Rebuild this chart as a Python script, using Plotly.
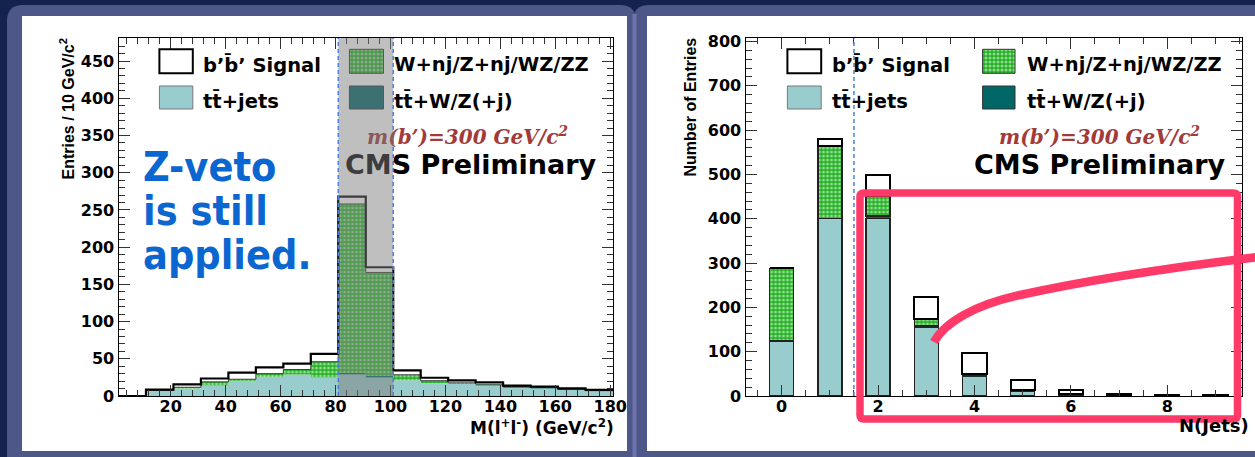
import plotly.graph_objects as go
import numpy as np

W, H = 1255, 457

# ---------------- data: left panel, M(l+l-) ----------------
mll_edges = list(range(1, 182, 10))            # 18 bins of 10 GeV
mll_ttjets = [0, 7, 10, 14, 20, 26, 29, 25, 29, 25, 21, 17, 16, 14, 11, 10, 8, 6.5]
mll_ttV    = [0, 0, 0, 0, 0, 0, 0, 0, 2, 2, 0, 0, 0.5, 1.5, 1.5, 1.5, 1.5, 1]
mll_wz     = [0, 0.5, 1.7, 5, 2.5, 4, 6.5, 21, 227, 139, 7.5, 3.5, 1.2, 0.5, 0.3, 0.3, 0.2, 0.2]
mll_signal = [0, 1, 4, 4.5, 9, 8.5, 8, 10.5, 10, 7, 6, 4, 3.3, 2.5, 1.2, 0.7, 0.5, 0.4]
zveto_window = [81, 101]

# ---------------- data: right panel, N(jets) ----------------
njets     = [0, 1, 2, 3, 4, 5, 6, 7, 8, 9]
nj_ttjets = [124, 401, 401, 154, 44, 11, 4.5, 1, 0.5, 0.3]
nj_ttV    = [0, 0, 5, 4, 2, 1, 0.5, 0.2, 0.1, 0.1]
nj_wz     = [164, 163, 46, 15, 3, 0.5, 0, 0, 0, 0]
nj_signal = [0, 15, 47, 50, 47, 24.5, 8, 3.3, 1.4, 1.1]
njet_cut = 1.5

# ---------------- styles ----------------
C_TT = '#99cccc'
C_TTV = '#006666'
C_WZ = '#22b022'
C_BG = '#14224e'
C_FRAME = '#4d5888'
WZ_PAT = dict(shape='.', fgcolor='white', bgcolor=C_WZ, size=4, solidity=0.45)
TICK = dict(family='DejaVu Sans', size=16, color='black', weight='bold')


def px(x):
    return x / W


def py(y):
    return 1 - y / H


fig = go.Figure()

# ----- left: stacked step histogram -----
stack = np.zeros(len(mll_ttjets))
layers = [
    (mll_ttjets, dict(fill='tozeroy', fillcolor=C_TT, line=dict(width=0, color=C_TT))),
    (mll_ttV, dict(fill='tonexty', fillcolor=C_TTV, line=dict(width=0, color=C_TTV))),
    (mll_wz, dict(fill='tonexty', fillcolor=C_WZ, fillpattern=WZ_PAT,
                  line=dict(width=1, color='#333333'))),
    (mll_signal, dict(fill='tonexty', fillcolor='white', line=dict(width=2.2, color='black'))),
]
for vals, style in layers:
    stack = stack + np.array(vals, dtype=float)
    yv = list(stack) + [stack[-1]]
    fig.add_trace(go.Scatter(x=mll_edges, y=yv, mode='lines', line_shape='hv',
                             xaxis='x', yaxis='y', hoverinfo='skip', **style))

# ----- right: stacked bars -----
fig.add_trace(go.Bar(x=njets, y=nj_ttjets, width=0.5, xaxis='x2', yaxis='y2',
                     marker=dict(color=C_TT, line=dict(color='#222', width=1.4))))
fig.add_trace(go.Bar(x=njets, y=nj_ttV, width=0.5, xaxis='x2', yaxis='y2',
                     marker=dict(color=C_TTV, line=dict(color='#222', width=0.8))))
fig.add_trace(go.Bar(x=njets, y=nj_wz, width=0.5, xaxis='x2', yaxis='y2',
                     marker=dict(color=C_WZ, pattern=WZ_PAT, line=dict(color='#222', width=1.4))))
fig.add_trace(go.Bar(x=njets, y=nj_signal, width=0.5, xaxis='x2', yaxis='y2',
                     marker=dict(color='white', line=dict(color='black', width=2))))

# ----- patterned legend swatches (pixel overlay axes) -----
for (x0, x1) in [(349.4, 383.5), (982.6, 1015.0)]:
    y0, y1 = 49.3, 73.3
    fig.add_trace(go.Scatter(x=[x0, x1, x1, x0, x0], y=[y0, y0, y1, y1, y0], mode='lines',
                             fill='toself', fillcolor=C_WZ, fillpattern=WZ_PAT,
                             line=dict(color='#333', width=1), xaxis='x3', yaxis='y3',
                             hoverinfo='skip'))


def axis(domain, rng, dtick, mdtick, anchor, standoff=0):
    return dict(domain=domain, range=rng, dtick=dtick, tick0=0, ticks='inside', ticklen=11,
                tickwidth=1, tickcolor='#333',
                minor=dict(ticks='inside', ticklen=6, dtick=mdtick, tick0=0,
                           tickcolor='#333', tickwidth=1),
                showline=True, linecolor='black', linewidth=1.2, mirror='ticks',
                showgrid=False, zeroline=False, tickfont=TICK, anchor=anchor, fixedrange=True,
                automargin=False, ticklabelstandoff=standoff)


ydom = [py(396), py(38)]
fig.update_layout(
    width=W, height=H, margin=dict(l=0, r=0, t=0, b=0, pad=0, autoexpand=False),
    paper_bgcolor=C_BG, plot_bgcolor='rgba(0,0,0,0)', showlegend=False,
    barmode='stack',
    xaxis=axis([px(118.5), px(613)], [1, 181], 20, 4, 'y', -4),
    yaxis=axis(ydom, [0, 481], 50, 10, 'x'),
    xaxis2=axis([px(745.5), px(1242)], [-0.75, 9.55], 2, 0.5, 'y2', -4),
    yaxis2=axis(ydom, [0, 808], 100, 20, 'x2'),
    xaxis3=dict(domain=[0, 1], range=[0, W], visible=False, anchor='y3', fixedrange=True,
                automargin=False),
    yaxis3=dict(domain=[0, 1], range=[H, 0], visible=False, anchor='x3', fixedrange=True,
                automargin=False),
)


def rrect(x0, y0, x1, y1, r):
    # rounded rectangle path in paper coords from pixel coords
    pts = [
        f"M{px(x0 + r)},{py(y0)}", f"L{px(x1 - r)},{py(y0)}",
        f"Q{px(x1)},{py(y0)} {px(x1)},{py(y0 + r)}", f"L{px(x1)},{py(y1 - r)}",
        f"Q{px(x1)},{py(y1)} {px(x1 - r)},{py(y1)}", f"L{px(x0 + r)},{py(y1)}",
        f"Q{px(x0)},{py(y1)} {px(x0)},{py(y1 - r)}", f"L{px(x0)},{py(y0 + r)}",
        f"Q{px(x0)},{py(y0)} {px(x0 + r)},{py(y0)}", "Z"]
    return " ".join(pts)


shapes = []
# slide panels
shapes.append(dict(type='path', path=rrect(7, 5, 636, 480, 16), xref='paper', yref='paper',
                   fillcolor=C_FRAME, line=dict(width=0), layer='below'))
shapes.append(dict(type='path', path=rrect(633, 5, 1275, 480, 16), xref='paper', yref='paper',
                   fillcolor=C_FRAME, line=dict(width=0), layer='below'))
shapes.append(dict(type='line', x0=px(634.5), x1=px(634.5), y0=py(14), y1=py(460), xref='paper',
                   yref='paper', line=dict(color='#6e74ab', width=4), layer='below'))
shapes.append(dict(type='rect', x0=px(22), x1=px(627), y0=py(16), y1=py(451), xref='paper',
                   yref='paper', fillcolor='white', line=dict(width=0), layer='below'))
shapes.append(dict(type='rect', x0=px(647), x1=px(1262), y0=py(16), y1=py(451), xref='paper',
                   yref='paper', fillcolor='white', line=dict(width=0), layer='below'))

# legend swatches (solid)
for xs in [(159.4, 192.8), (787.4, 821.2)]:
    shapes.append(dict(type='rect', xref='x3', yref='y3', x0=xs[0], x1=xs[1], y0=49.3, y1=73.3,
                       fillcolor='white', line=dict(color='black', width=2), layer='above'))
    shapes.append(dict(type='rect', xref='x3', yref='y3', x0=xs[0], x1=xs[1], y0=86, y1=109,
                       fillcolor=C_TT, line=dict(color='#777', width=1), layer='above'))
for xs in [(349.4, 383.5), (982.6, 1015.0)]:
    shapes.append(dict(type='rect', xref='x3', yref='y3', x0=xs[0], x1=xs[1], y0=86, y1=109,
                       fillcolor=C_TTV, line=dict(color='#333', width=1), layer='above'))

# Z-veto band (grey overlay) and dashed lines
shapes.append(dict(type='rect', xref='x', yref='y domain', x0=zveto_window[0], x1=zveto_window[1],
                   y0=0, y1=1, fillcolor='rgba(125,125,125,0.49)', line=dict(width=0),
                   layer='above'))
for xv in zveto_window:
    shapes.append(dict(type='line', xref='x', yref='y domain', x0=xv, x1=xv, y0=0, y1=1,
                       line=dict(color='#4a7fe0', width=1.5, dash='4px,3px'), layer='above'))
shapes.append(dict(type='line', xref='x2', yref='y2 domain', x0=njet_cut, x1=njet_cut, y0=0, y1=1,
                   line=dict(color='#4a7fe0', width=1.5, dash='4px,3px'), layer='above'))

# red highlight box and stroke
RED = '#ff3a68'
x0, y0, x1, y1, r = 860, 193, 1237.5, 419, 4
box = (f"M{x0 + r},{y0} L{x1 - r},{y0} Q{x1},{y0} {x1},{y0 + r} L{x1},{y1 - r} "
       f"Q{x1},{y1} {x1 - r},{y1} L{x0 + r},{y1} Q{x0},{y1} {x0},{y1 - r} "
       f"L{x0},{y0 + r} Q{x0},{y0} {x0 + r},{y0} Z")
shapes.append(dict(type='path', path=box, xref='x3', yref='y3', line=dict(color=RED, width=7.5),
                   layer='above'))
shapes.append(dict(type='path', xref='x3', yref='y3',
                   path="M934,342 C945,322 975,305 1020,295 S1150,270 1258,257",
                   line=dict(color=RED, width=8.5), layer='above'))

fig.update_layout(shapes=shapes)


def ann(x, y, text, font, xanchor='left', yanchor='middle', angle=0):
    fig.add_annotation(x=px(x), y=py(y), xref='paper', yref='paper', text=text, showarrow=False,
                       xanchor=xanchor, yanchor=yanchor, textangle=angle, font=font,
                       borderpad=0)


LEG = dict(family='DejaVu Sans', size=19.5, color='black', weight='bold')
sig_txt = "b\u2019b\u0304\u2019 Signal"
tt_txt = "tt\u0304+jets"
wz_txt = "W+nj/Z+nj/WZ/ZZ"
ttv_txt = "tt\u0304+W/Z(+j)"
for xa, xb in [(202, 393), (831, 1026)]:
    ann(xa, 65, sig_txt, LEG)
    ann(xa, 100.5, tt_txt, LEG)
    ann(xb, 65, wz_txt, LEG)
    ann(xb, 100.5, ttv_txt, LEG)

MB = dict(family='DejaVu Serif', size=20, color='#a23a3a', weight='bold', style='italic')
ann(467, 136, '<span style="color:#8a5a5a">m(</span>b\u2019)=300 GeV/c<sup>2</sup>', MB,
    xanchor='center')
ann(1099, 136, 'm(b\u2019)=300 GeV/c<sup>2</sup>', MB, xanchor='center')

CMS = dict(family='DejaVu Sans', size=27, color='black', weight='bold')
ann(470.5, 164, '<span style="color:#3d3d3d">CM</span>S Preliminary', CMS, xanchor='center')
ann(1100, 164, 'CMS Preliminary', CMS, xanchor='center')

ZV = dict(family='DejaVu Sans Condensed, Liberation Sans Narrow, sans-serif', size=41,
          color='#0b66d0', weight='bold')
ann(142, 167, 'Z-veto', ZV)
ann(142, 211, 'is still', ZV)
ann(142, 255, 'applied.', ZV)

TT = dict(family='Liberation Sans', size=16, color='black', weight='bold')
ann(68, 38, 'Entries / 10 GeV/c<sup>2</sup>', TT, xanchor='center', yanchor='top', angle=-90)
ann(690, 37, 'Number of Entries', TT, xanchor='center', yanchor='top', angle=-90)

XT = dict(family='DejaVu Sans', size=17, color='black', weight='bold')
ann(615, 427, 'M(l<sup>+</sup>l<sup>-</sup>) (GeV/c<sup>2</sup>)', XT, xanchor='right')
ann(1250, 425, 'N(Jets)', dict(XT, size=18), xanchor='right')

fig.write_html("out.html")
